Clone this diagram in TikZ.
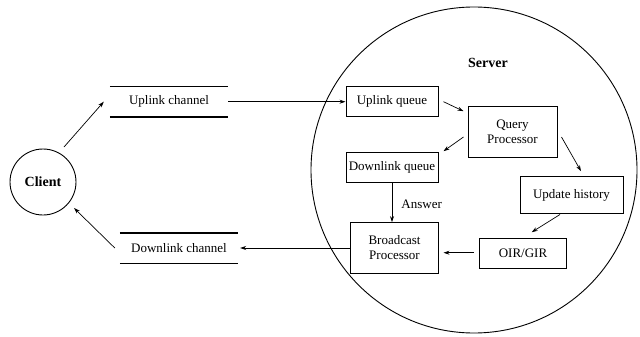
\documentclass[tikz,border=0pt]{standalone}
\usepackage{fontspec}
\setmainfont{Liberation Serif}
\usetikzlibrary{calc,arrows.meta}
\begin{document}
\begin{tikzpicture}[x=1pt,y=-1pt,
  every node/.style={font=\fontsize{13}{15}\selectfont},
  box/.style={draw,line width=1pt,rectangle,inner sep=0pt,align=center},
  channel/.style={inner sep=0pt,minimum width=118,minimum height=30},
  chline/.style={line width=1.4pt},
  arr/.style={line width=0.7pt,-{Stealth[length=6pt,width=4pt]}},
  bigcircle/.style={draw,circle,line width=0.9pt,inner sep=0pt},
  title/.style={font=\fontsize{14}{16}\selectfont\bfseries}]
\useasboundingbox (0,0) rectangle (640,337);

% server boundary and its contents
\node[bigcircle,minimum size=326] (server) at (474,170) {};
\node[title] (srvlabel) at (488,63) {Server};

\node[box,minimum width=92,minimum height=30] (uq) at (392,101.7) {Uplink queue};
\node[box,minimum width=89,minimum height=50.6] (qp) at (512.5,132) {Query\\Processor};
\node[box,minimum width=92,minimum height=30] (dq) at (392,167.7) {Downlink queue};
\node[box,minimum width=103,minimum height=36.6] (uh) at (571.5,195) {Update history};
\node[box,minimum width=87.6,minimum height=50.6] (bp) at (394.5,248) {Broadcast\\Processor};
\node[box,minimum width=87.4,minimum height=30] (oir) at (523,253.3) {OIR/GIR};
\node (ans) at (421.7,204) {Answer};

% client and the two channels
\node[bigcircle,minimum size=66] (client) at (43,182) {};
\node[title] (clabel) at (43,182) {Client};

\node[channel] (upch) at (169,101.7) {Uplink channel};
\draw[chline] (upch.north west) -- (upch.north east);
\draw[chline] (upch.south west) -- (upch.south east);

\node[channel] (dnch) at (179,248) {Downlink channel};
\draw[chline] (dnch.north west) -- (dnch.north east);
\draw[chline] (dnch.south west) -- (dnch.south east);

% flows
\draw[arr] ($(client)+(21,-35)$) -- ($(upch.west)+(-6,0)$);
\draw[arr] (upch.east) -- (uq.west);
\draw[arr] ($(uq.east)+(5,0)$) -- ($(qp.north west)+(-4,5)$);
\draw[arr] ($(qp.west)+(-4,5)$) -- ($(dq.north east)+(5,-1)$);
\draw[arr] ($(qp.east)+(4,5)$) -- ($(uh.north)+(9.5,-5)$);
\draw[arr] ($(uh.south)+(-11.5,0.7)$) -- ($(oir.north)+(8.7,-5.6)$);
\draw[arr] ($(oir.west)+(-5,-0.6)$) -- ($(bp.east)+(4.7,4.7)$);
\draw[arr] (dq.south) -- (dq.south |- bp.north);
\draw[arr] (bp.west) -- ($(dnch.east)+(2,0)$);
\draw[arr] ($(dnch.west)+(-5,0)$) -- ($(client)+(31,26)$);
\end{tikzpicture}
\end{document}
